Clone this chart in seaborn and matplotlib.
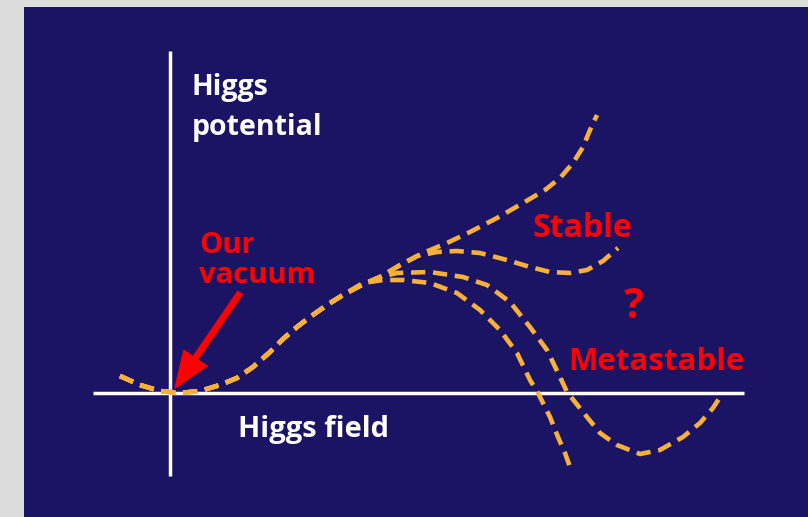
import matplotlib
matplotlib.use("Agg")
import matplotlib.pyplot as plt
from matplotlib.patches import Rectangle, FancyArrowPatch
import numpy as np
import pandas as pd
import seaborn as sns

# Field value (phi) and potential (V) along the shared low-field part of the curve
common_phi = [-0.50, -0.30, -0.10, 0.10, 0.30, 0.50, 0.67, 0.83, 1.00, 1.13, 1.27, 1.40, 1.57, 1.73]
common_v = [0.17, 0.08, 0.02, 0.00, 0.02, 0.08, 0.15, 0.26, 0.41, 0.54, 0.66, 0.76, 0.88, 0.98]

# Branch: potential keeps rising (stable)
rise_phi = [1.90, 2.10, 2.27, 2.53, 2.77, 3.00, 3.27, 3.53, 3.75, 3.90, 4.03, 4.13, 4.20, 4.27]
rise_v = [1.07, 1.16, 1.26, 1.40, 1.50, 1.61, 1.75, 1.90, 2.03, 2.15, 2.30, 2.46, 2.63, 2.78]

# Branch: second, higher minimum (stable)
dip_phi = [1.90, 2.10, 2.30, 2.47, 2.67, 2.87, 3.10, 3.37, 3.60, 3.80, 4.00, 4.17, 4.33, 4.48]
dip_v = [1.07, 1.16, 1.28, 1.37, 1.41, 1.42, 1.40, 1.33, 1.26, 1.21, 1.20, 1.23, 1.32, 1.45]

# Branch: deeper minimum below our vacuum (metastable)
meta_phi = [1.93, 2.10, 2.27, 2.60, 2.93, 3.17, 3.40, 3.60, 3.77, 3.90, 3.97, 4.17, 4.30,
            4.47, 4.70, 4.90, 5.13, 5.30, 5.43, 5.52]
meta_v = [1.09, 1.16, 1.20, 1.21, 1.16, 1.08, 0.91, 0.66, 0.43, 0.16, 0.01, -0.24, -0.40,
          -0.52, -0.61, -0.57, -0.44, -0.30, -0.15, -0.01]

# Branch: potential falls without bound
fall_phi = [1.93, 2.13, 2.33, 2.60, 2.87, 3.10, 3.30, 3.47, 3.60, 3.68, 3.80, 3.88, 3.95, 4.00]
fall_v = [1.10, 1.13, 1.13, 1.10, 1.00, 0.83, 0.63, 0.40, 0.13, 0.00, -0.24, -0.44, -0.60, -0.74]

branches = {
    "rise": (rise_phi, rise_v),
    "dip": (dip_phi, dip_v),
    "meta": (meta_phi, meta_v),
    "fall": (fall_phi, fall_v),
}

frames = []
for name, (bp, bv) in branches.items():
    frames.append(pd.DataFrame({"phi": common_phi + bp, "V": common_v + bv, "curve": name}))
df = pd.concat(frames, ignore_index=True)

NAVY = "#1b1464"
GREY = "#dcdcdc"
ORANGE = "#f7b13a"
RED = "#ff0000"

sns.set_theme(style="white")
plt.rcParams["font.family"] = ["Open Sans", "DejaVu Sans"]

W, H = 808, 517
fig = plt.figure(figsize=(W / 100, H / 100), dpi=100, facecolor=GREY)

ax = fig.add_axes([0, 0, 1, 1])
ax.set_facecolor("none")
# one data unit = 100 px; origin where the two diagram axes cross
ax.set_xlim(-1.70, 6.38)
ax.set_ylim(-1.24, 3.93)
ax.set_axis_off()

# navy panel
ax.add_patch(Rectangle((24 / W, 0), 1 - 24 / W, (H - 7) / H, transform=ax.transAxes,
                       facecolor=NAVY, edgecolor="none", zorder=0))

# diagram axes
ax.plot([-0.77, 5.74], [0, 0], color="white", lw=2.5, solid_capstyle="butt", zorder=2)
ax.plot([0, 0], [-0.83, 3.42], color="white", lw=2.5, solid_capstyle="butt", zorder=2)

names = list(branches)
sns.lineplot(data=df, x="phi", y="V", hue="curve", style="curve",
             palette={n: ORANGE for n in names},
             dashes={n: (3.1, 1.7) for n in names},
             estimator=None, sort=False, linewidth=3.3, legend=False,
             ax=ax, zorder=3)

def px(x, y):
    return (x - 170) / 100, (393 - y) / 100

ax.text(*px(192, 95), "Higgs", color="white", fontsize=20.5, fontweight="bold")
ax.text(*px(192, 135), "potential", color="white", fontsize=20.5, fontweight="bold")
ax.text(*px(238, 437), "Higgs field", color="white", fontsize=21, fontweight="bold")

ax.text(*px(199, 253), "Our", color=RED, fontsize=21, fontweight="bold")
ax.text(*px(199, 283), "vacuum", color=RED, fontsize=21, fontweight="bold")
ax.text(*px(532, 237), "Stable", color=RED, fontsize=23, fontweight="bold")
ax.text(*px(568, 370), "Metastable", color=RED, fontsize=22.5, fontweight="bold")
ax.text(*px(624, 318), "?", color=RED, fontsize=30, fontweight="bold")

arrow = FancyArrowPatch(px(240, 293), px(175, 388),
                        arrowstyle="simple,head_length=1.3,head_width=1.0,tail_width=0.2",
                        mutation_scale=20, color=RED, shrinkA=0, shrinkB=0, zorder=4)
ax.add_patch(arrow)

fig.savefig("out.png", dpi=100, facecolor=GREY)
